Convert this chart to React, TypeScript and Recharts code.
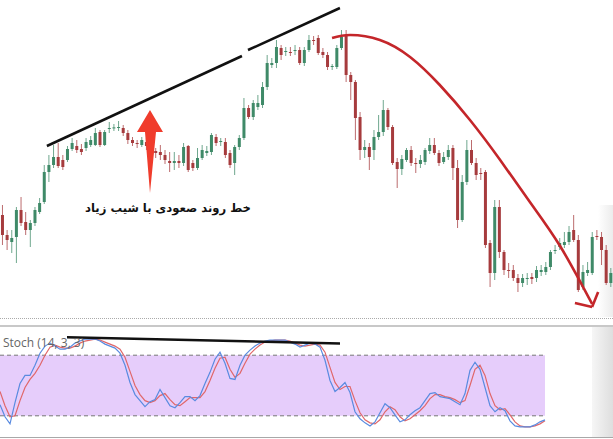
import React from "react";
import {
  ComposedChart,
  LineChart,
  Line,
  Bar,
  XAxis,
  YAxis,
  ReferenceLine,
  ReferenceArea,
  ReferenceDot,
} from "recharts";

// candle prices (arbitrary points), one per bar
const OPEN = [
  105, 85, 78, 83, 110, 98, 90, 97, 108, 118, 148, 155, 163, 160, 160, 171, 174, 171, 172, 175,
  175, 188, 175, 191, 192, 192, 192, 187, 180, 177, 175, 178, 174, 169, 168, 165, 159, 157, 159, 157,
  174, 157, 152, 162, 167, 168, 183, 178, 178, 167, 157, 173, 182, 212, 203, 213, 215, 233, 255, 257,
  272, 268, 268, 269, 270, 257, 270, 280, 282, 268, 265, 253, 253, 272, 285, 245, 238, 203, 170, 173,
  170, 183, 188, 210, 193, 158, 151, 160, 170, 157, 156, 158, 169, 175, 167, 158, 163, 172, 152, 100,
  138, 170, 157, 147, 148, 77, 47, 113, 68, 50, 50, 42, 37, 41, 43, 42, 48, 48, 53, 69,
  73, 75, 78, 90, 80, 33, 47, 47, 84, 83, 70, 37,
];
const HIGH = [
  115, 90, 90, 113, 123, 108, 100, 113, 122, 155, 165, 175, 177, 165, 174, 182, 180, 176, 182, 184,
  192, 190, 190, 198, 196, 199, 195, 190, 183, 180, 183, 182, 178, 172, 175, 170, 168, 168, 165, 177,
  175, 160, 172, 175, 174, 187, 186, 182, 182, 170, 175, 185, 222, 215, 220, 225, 238, 265, 262, 280,
  275, 273, 273, 275, 273, 273, 285, 284, 285, 272, 268, 256, 275, 290, 290, 248, 240, 208, 180, 177,
  190, 205, 220, 212, 195, 162, 165, 172, 174, 162, 165, 172, 182, 182, 170, 168, 175, 175, 160, 145,
  180, 180, 162, 152, 150, 80, 120, 120, 70, 57, 55, 46, 46, 47, 47, 54, 55, 58, 70, 75,
  82, 88, 94, 105, 85, 55, 58, 88, 90, 88, 75, 52,
];
const LOW = [
  75, 70, 67, 57, 94, 85, 73, 94, 106, 116, 138, 152, 152, 150, 158, 169, 167, 165, 169, 173,
  174, 173, 174, 187, 189, 189, 184, 176, 174, 172, 173, 170, 164, 162, 160, 156, 148, 150, 152, 154,
  148, 149, 150, 160, 164, 165, 174, 174, 162, 152, 145, 170, 180, 201, 200, 210, 212, 230, 252, 252,
  260, 264, 264, 265, 255, 254, 268, 275, 265, 262, 250, 250, 251, 270, 238, 220, 180, 160, 162, 150,
  160, 180, 184, 190, 155, 132, 145, 158, 154, 147, 152, 155, 166, 165, 154, 156, 160, 140, 92, 98,
  135, 155, 140, 140, 72, 33, 40, 62, 45, 42, 39, 28, 33, 35, 36, 38, 44, 45, 50, 66,
  70, 72, 75, 78, 28, 30, 44, 45, 80, 55, 35, 33,
];
const CLOSE = [
  85, 80, 82, 110, 97, 90, 97, 110, 117, 148, 155, 163, 154, 153, 171, 177, 170, 168, 178, 180,
  187, 175, 188, 192, 192.6, 193, 187, 180, 177, 176, 180, 174, 170, 167, 165, 160, 157, 159, 157, 173,
  150, 152, 162, 170, 169, 185, 177, 179, 165, 155, 173, 182, 212, 203, 217, 217, 233, 257, 257, 273,
  265, 269, 267, 270, 257, 270, 280, 279, 267, 265, 253, 254, 272, 283, 245, 238, 202, 170, 173, 163,
  183, 188, 210, 193, 157, 151, 161, 170, 157, 156, 160, 170, 175, 167, 157, 163, 170, 152, 100, 138,
  170, 157, 145, 146, 75, 47, 113, 68, 50, 49, 42, 37, 42, 42, 41, 50, 50, 53, 68, 70,
  77, 78, 88, 80, 30, 48, 50, 83, 83, 70, 37, 47,
];

// stochastic (14, 3, 3)
const STOCH_K = [
  31, 19, 12, 33, 52, 60, 60, 70, 82, 89,
  92, 89, 86, 86, 88, 92, 94, 96, 96, 96,
  94, 91, 89, 87, 82, 70, 53, 41, 35, 29,
  34, 36, 46, 38, 30, 28, 33, 39, 39, 35,
  40, 52, 63, 76, 83, 72, 57, 56, 70, 80,
  85, 89, 92, 94, 95, 95, 95, 95, 93, 91,
  88, 90, 92, 91, 88, 75, 55, 44, 48, 53,
  43, 24, 17, 13, 10, 14, 23, 32, 28, 21,
  14, 16, 21, 25, 28, 35, 42, 43, 39, 38,
  37, 34, 31, 42, 65, 73, 66, 48, 30, 24,
  28, 25, 15, 10, 9, 9, 9, 11, 14, 16,
];
const STOCH_D = [
  44, 30, 19, 20, 35, 48, 56, 62, 70, 80,
  88, 90, 88, 87, 87, 89, 92, 94, 95, 96,
  95, 93, 91, 89, 86, 78, 64, 50, 41, 35,
  33, 35, 40, 42, 36, 31, 30, 34, 38, 38,
  38, 44, 55, 67, 77, 78, 66, 58, 62, 72,
  81, 86, 90, 93, 94, 95, 95, 95, 94, 92,
  90, 89, 90, 91, 90, 83, 68, 53, 46, 49,
  49, 35, 23, 16, 13, 12, 16, 24, 29, 26,
  19, 15, 17, 21, 25, 30, 37, 41, 41, 39,
  38, 36, 33, 35, 50, 66, 70, 60, 42, 30,
  26, 27, 21, 14, 10, 9, 9, 10, 12, 15,
];

// hand-drawn annotations, in (bar, price)
const TREND_A = [{ x: 9.6, y: 174 }, { x: 51.6, y: 264 }];
const TREND_B = [{ x: 52.9, y: 270 }, { x: 72.7, y: 312 }];
const CURVE_BAR = [71.0, 74.9, 81.3, 87.8, 94.2, 100.7, 107.2, 113.6, 120.1, 127.0];
const CURVE_PRICE = [282, 285, 280, 263, 235, 200, 160, 118, 74, 16];
const HEAD_L = [{ x: 123.3, y: 17 }, { x: 127.0, y: 13 }];
const HEAD_R = [{ x: 128.3, y: 28 }, { x: 127.0, y: 13 }];
const UP_ARROW = { x: 31.8, y: 210 };
const STOCH_TREND = [{ x: 13.4, y: 97.7 }, { x: 68, y: 91.7 }];

const GREEN = "#3f8a68";
const RED = "#a63b3d";

const candles = OPEN.map((o, i) => ({ i, open: o, high: HIGH[i], low: LOW[i], close: CLOSE[i] }));
const curve = CURVE_BAR.map((b, k) => ({ i: b, p: CURVE_PRICE[k] }));
const stoch = STOCH_K.map((k, i) => ({ i, k, d: STOCH_D[i] }));

function Candle(props: any) {
  const { x, y, width, height, payload } = props;
  const { open, high, low, close } = payload;
  const top = Math.min(y, y + height);
  const h = Math.abs(height);
  const ppu = h / (high - low || 1);
  const cx = x + width / 2;
  const yO = top + (high - open) * ppu;
  const yC = top + (high - close) * ppu;
  const color = close >= open ? GREEN : RED;
  return (
    <g>
      <line x1={cx} x2={cx} y1={top} y2={top + h} stroke={color} strokeOpacity={0.75} strokeWidth={1} />
      <rect x={cx - 1.5} y={Math.min(yO, yC)} width={3} height={Math.max(1, Math.abs(yO - yC))} fill={color} />
    </g>
  );
}

function UpArrow(props: any) {
  const { cx, cy } = props;
  const pts = [
    [0, 0], [13, 22], [6, 22], [0, 83], [-5, 22], [-13, 22],
  ].map(([dx, dy]) => `${cx + dx},${cy + dy}`).join(" ");
  return <polygon points={pts} fill="#f03c2c" />;
}

export default function App() {
  return (
    <div style={{ position: "relative", width: 613, height: 439, background: "#fff", overflow: "hidden" }}>
      <style>{`body{margin:0}`}</style>

      <div style={{ position: "absolute", left: 598, top: 205, width: 15, height: 112, background: "linear-gradient(to right, #ffffff, #ececec)" }} />

      <div style={{ position: "absolute", left: 0, top: 0 }}>
        <ComposedChart width={613} height={320} data={candles} margin={{ top: 0, right: 0, bottom: 0, left: 0 }}>
          <XAxis xAxisId="c" dataKey="i" hide />
          <XAxis xAxisId="n" type="number" dataKey="i" domain={[-0.5, 131.5]} allowDataOverflow hide />
          <YAxis domain={[0, 320]} allowDataOverflow hide />
          <Bar xAxisId="c" dataKey={(d: any) => [d.low, d.high]} shape={<Candle />} isAnimationActive={false} />
          <ReferenceLine xAxisId="n" segment={TREND_A} stroke="#111" strokeWidth={2.5} />
          <ReferenceLine xAxisId="n" segment={TREND_B} stroke="#111" strokeWidth={2.5} />
          <Line
            xAxisId="n"
            data={curve}
            dataKey="p"
            type="natural"
            stroke="#c4262a"
            strokeWidth={2.6}
            dot={false}
            activeDot={false}
            isAnimationActive={false}
          />
          <ReferenceLine xAxisId="n" segment={HEAD_L} stroke="#c4262a" strokeWidth={2.6} />
          <ReferenceLine xAxisId="n" segment={HEAD_R} stroke="#c4262a" strokeWidth={2.6} />
          <ReferenceDot xAxisId="n" x={UP_ARROW.x} y={UP_ARROW.y} shape={<UpArrow />} />
        </ComposedChart>
      </div>

      <div
        dir="rtl"
        style={{
          position: "absolute", left: 48, top: 198, width: 240, textAlign: "center", whiteSpace: "nowrap",
          fontFamily: "DejaVu Sans", fontWeight: 600, fontSize: 11.6, lineHeight: "20px", color: "#111",
        }}
      >
        خط روند صعودی با شیب زیاد
      </div>

      <div style={{ position: "absolute", left: 0, top: 318, width: 613, borderTop: "1px dotted #aaa" }} />
      <div style={{ position: "absolute", left: 0, top: 325, width: 613, height: 2, background: "#c8c8c8" }} />
      <div style={{ position: "absolute", left: 0, top: 437, width: 613, height: 1, background: "#a8a8a8" }} />
      <div style={{ position: "absolute", left: 592, top: 327, width: 21, height: 110, background: "linear-gradient(to right, #f6f6f6, #dedede)" }} />

      <div style={{ position: "absolute", left: 0, top: 327 }}>
        <LineChart width={613} height={110} data={stoch} margin={{ top: 8, right: 68, bottom: 1, left: 0 }}>
          <XAxis type="number" dataKey="i" domain={[0, 109]} hide />
          <YAxis domain={[0, 100]} allowDataOverflow hide />
          <ReferenceArea x1={0} x2={109} y1={20} y2={80} fill="#e6cdfb" fillOpacity={1} stroke="none" />
          <ReferenceLine y={80} stroke="#777" strokeDasharray="4 3" />
          <ReferenceLine y={20} stroke="#777" strokeDasharray="4 3" />
          <Line dataKey="d" stroke="#e0676a" strokeWidth={1.2} dot={false} isAnimationActive={false} />
          <Line dataKey="k" stroke="#5a8be0" strokeWidth={1.2} dot={false} isAnimationActive={false} />
          <ReferenceLine segment={STOCH_TREND} stroke="#111" strokeWidth={2.5} />
        </LineChart>
      </div>

      <div style={{ position: "absolute", left: 3, top: 334, fontFamily: "Open Sans", fontSize: 12, color: "#666" }}>
        Stoch (14, 3, 3)
      </div>
    </div>
  );
}
